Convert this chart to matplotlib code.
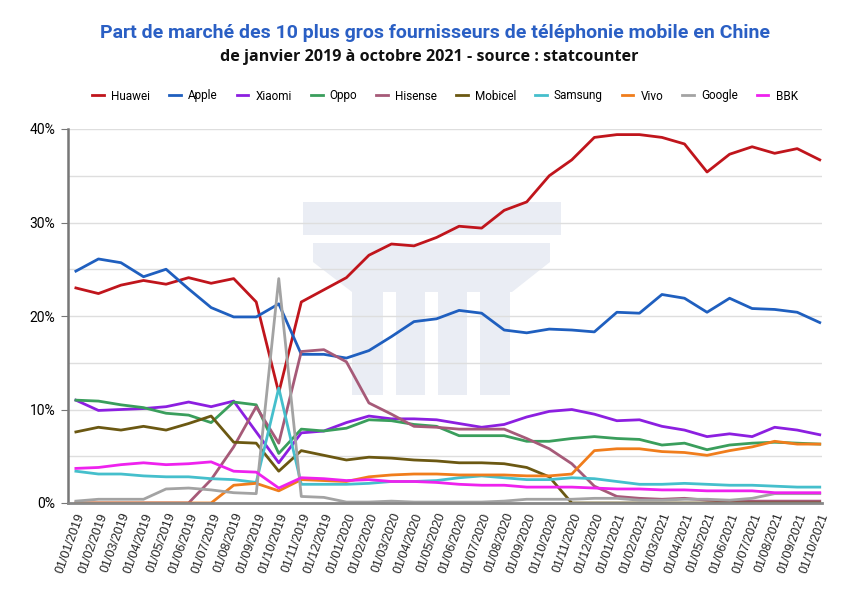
import matplotlib
matplotlib.use("Agg")
import matplotlib.pyplot as plt
from matplotlib.patches import Polygon
import numpy as np

months = ["01/01/2019","01/02/2019","01/03/2019","01/04/2019","01/05/2019","01/06/2019",
          "01/07/2019","01/08/2019","01/09/2019","01/10/2019","01/11/2019","01/12/2019",
          "01/01/2020","01/02/2020","01/03/2020","01/04/2020","01/05/2020","01/06/2020",
          "01/07/2020","01/08/2020","01/09/2020","01/10/2020","01/11/2020","01/12/2020",
          "01/01/2021","01/02/2021","01/03/2021","01/04/2021","01/05/2021","01/06/2021",
          "01/07/2021","01/08/2021","01/09/2021","01/10/2021"]

huawei = [23.0,22.4,23.3,23.8,23.4,24.1,23.5,24.0,21.5,11.8,21.5,22.8,
          24.1,26.5,27.7,27.5,28.4,29.6,29.4,31.3,32.2,35.0,36.7,39.1,
          39.4,39.4,39.1,38.4,35.4,37.3,38.1,37.4,37.9,36.7]
apple = [24.8,26.1,25.7,24.2,25.0,22.9,20.9,19.9,19.9,21.3,15.9,15.9,
         15.5,16.3,17.8,19.4,19.7,20.6,20.3,18.5,18.2,18.6,18.5,18.3,
         20.4,20.3,22.3,21.9,20.4,21.9,20.8,20.7,20.4,19.3]
xiaomi = [11.0,9.9,10.0,10.1,10.3,10.8,10.3,10.9,7.6,4.3,7.5,7.7,
          8.6,9.3,9.0,9.0,8.9,8.5,8.1,8.4,9.2,9.8,10.0,9.5,
          8.8,8.9,8.2,7.8,7.1,7.4,7.1,8.1,7.8,7.3]
oppo = [11.0,10.9,10.5,10.2,9.6,9.4,8.6,10.8,10.5,5.3,7.9,7.7,
        8.0,8.9,8.8,8.4,8.2,7.2,7.2,7.2,6.6,6.6,6.9,7.1,
        6.9,6.8,6.2,6.4,5.7,6.2,6.4,6.5,6.4,6.3]
hisense = [0,0,0,0,0,0,2.5,6.0,10.3,6.4,16.2,16.4,
           15.1,10.7,9.5,8.2,8.1,7.9,7.9,7.9,6.9,5.8,4.2,1.8,
           0.7,0.5,0.4,0.5,0.3,0.2,0.2,0.2,0.2,0.2]
mobicel = [7.6,8.1,7.8,8.2,7.8,8.5,9.3,6.5,6.4,3.4,5.6,5.1,
           4.6,4.9,4.8,4.6,4.5,4.3,4.3,4.2,3.8,2.8,0,0,
           0,0,0,0,0,0,0,0,0,0]
samsung = [3.4,3.1,3.1,2.9,2.8,2.8,2.6,2.5,2.2,12.3,2.0,2.0,
           2.0,2.1,2.3,2.3,2.4,2.7,2.9,2.7,2.5,2.5,2.7,2.6,
           2.3,2.0,2.0,2.1,2.0,1.9,1.9,1.8,1.7,1.7]
vivo = [0,0,0,0,0,0,0,1.9,2.1,1.3,2.5,2.4,
        2.3,2.8,3.0,3.1,3.1,3.0,3.0,3.0,2.9,2.9,3.1,5.6,
        5.8,5.8,5.5,5.4,5.1,5.6,6.0,6.6,6.3,6.3]
google = [0.2,0.4,0.4,0.4,1.5,1.6,1.4,1.1,1.0,24.0,0.7,0.6,
          0.1,0.1,0.2,0.1,0.1,0.1,0.1,0.2,0.4,0.4,0.4,0.5,
          0.5,0.3,0.3,0.4,0.4,0.3,0.5,1.0,1.0,1.0]
bbk = [3.7,3.8,4.1,4.3,4.1,4.2,4.4,3.4,3.3,1.6,2.7,2.6,
       2.4,2.5,2.3,2.3,2.2,2.0,1.9,1.9,1.7,1.7,1.7,1.6,
       1.5,1.5,1.4,1.4,1.3,1.3,1.3,1.1,1.1,1.1]

series_names = ["Huawei","Apple","Xiaomi","Oppo","Hisense","Mobicel","Samsung","Vivo","Google","BBK"]
series_vals = [huawei, apple, xiaomi, oppo, hisense, mobicel, samsung, vivo, google, bbk]
colors = ["#c0151c","#1f5fbf","#8c1fe0","#3a9e5c","#a65a78","#6b5812","#45bfcc","#f07d1c","#a3a3a3","#ee22ee"]

W, H = 862, 596
fig = plt.figure(figsize=(W/100, H/100), dpi=100)
fig.patch.set_facecolor("white")

def fx(x): return x / W
def fy(y): return (H - y) / H

# watermark logo
wm = "#eaedf4"
def poly(pts):
    p = Polygon([(fx(x), fy(y)) for x, y in pts], closed=True, transform=fig.transFigure,
                facecolor=wm, edgecolor="none", zorder=-5)
    fig.patches.append(p)
poly([(303,202),(561,202),(561,235),(303,235)])
poly([(313,243),(550,243),(550,262),(512,292),(352,292),(313,262)])
for a, b in [(352,383),(396,425),(438,467),(480,510)]:
    poly([(a,290),(b,290),(b,395),(a,395)])

ax = fig.add_axes([fx(68), fy(503), fx(822)-fx(68), fy(129)-fy(503)])
ax.patch.set_alpha(0)

x = np.arange(len(months))
for name, vals, c in zip(series_names, series_vals, colors):
    ax.plot(x, vals, color=c, lw=2.0, label=name, solid_joinstyle="round")

ax.set_xlim(-0.35, 33.1)
ax.set_ylim(0, 40)
ax.set_yticks([0, 10, 20, 30, 40])
ax.set_yticklabels(["0%", "10%", "20%", "30%", "40%"], fontsize=10, family="Roboto")
ax.set_yticks([5, 15, 25, 35], minor=True)
ax.yaxis.grid(True, which="both", color="#dedede", lw=1.0)
ax.set_axisbelow(True)
ax.tick_params(axis="y", which="major", length=5, color="#777777", pad=4)
ax.tick_params(axis="y", which="minor", length=0)
ax.set_xticks(x)
ax.set_xticklabels(months, rotation=70, ha="right", va="top", rotation_mode="anchor",
                   fontsize=9, family="Liberation Sans", color="#222222")
ax.tick_params(axis="x", length=0, pad=6)
for s in ["top", "right"]:
    ax.spines[s].set_visible(False)
ax.spines["left"].set_color("#777777")
ax.spines["left"].set_linewidth(1.8)
ax.spines["bottom"].set_color("#888888")
ax.spines["bottom"].set_linewidth(2.0)

fig.text(fx(435), fy(33), "Part de marché des 10 plus gros fournisseurs de téléphonie mobile en Chine",
         ha="center", va="center", fontsize=14, fontweight="bold", color="#2a5fc4", family="Roboto")
fig.text(fx(429), fy(57), "de janvier 2019 à octobre 2021 - source : statcounter",
         ha="center", va="center", fontsize=11.6, fontweight="bold", color="#111111", family="Open Sans")

handles, labels = ax.get_legend_handles_labels()
fig.legend(handles, labels, loc="center", bbox_to_anchor=(fx(445), fy(96)), ncol=10, frameon=False,
           handlelength=1.0, handletextpad=0.6, columnspacing=1.6,
           prop={"family": "Roboto", "size": 8.5})

fig.savefig("out.png", dpi=100, facecolor="white")
